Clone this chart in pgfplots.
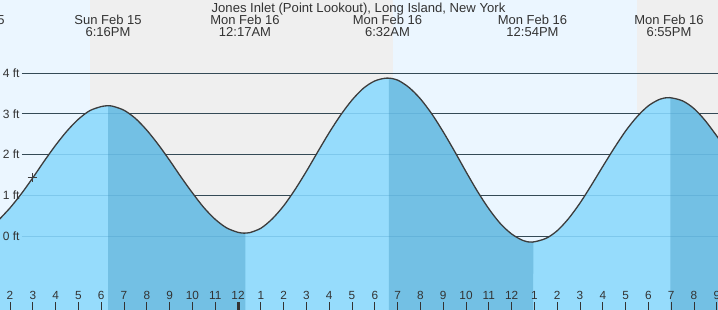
\documentclass[border=0pt]{standalone}
\usepackage{pgfplots}
\pgfplotsset{compat=1.18}
\usepackage{pgfplotstable}
\usepgfplotslibrary{fillbetween}
\usepackage{fontspec}
\setmainfont{Liberation Sans}
\definecolor{dayc}{HTML}{EBF6FF}
\definecolor{nightc}{HTML}{EFEFEF}
\definecolor{lightfill}{HTML}{96DCFC}
\definecolor{darkfill}{HTML}{73C0E4}
\definecolor{gridc}{HTML}{333333}
\definecolor{gridover}{HTML}{3A8FC0}
\definecolor{linec}{HTML}{3C3C3C}
\definecolor{textc}{HTML}{333333}
\pgfplotstableread{
t v
13.5 0.39
14.0 0.69
14.5 1.04
15.0 1.43
15.5 1.84
16.0 2.23
16.5 2.58
17.0 2.87
17.5 3.08
18.0 3.18
18.27 3.20
18.5 3.19
19.0 3.09
19.5 2.89
20.0 2.60
20.5 2.25
21.0 1.86
21.5 1.45
22.0 1.06
22.5 0.70
23.0 0.41
23.5 0.20
24.0 0.09
24.28 0.07
24.5 0.08
25.0 0.19
25.5 0.42
26.0 0.74
26.5 1.14
27.0 1.59
27.5 2.07
28.0 2.54
28.5 2.97
29.0 3.34
29.5 3.63
30.0 3.81
30.53 3.88
31.0 3.83
31.5 3.65
32.0 3.37
32.5 3.00
33.0 2.56
33.5 2.08
34.0 1.58
34.5 1.10
35.0 0.67
35.5 0.31
36.0 0.05
36.5 -0.11
36.9 -0.15
37.5 -0.06
38.0 0.13
38.5 0.43
39.0 0.81
39.5 1.25
40.0 1.71
40.5 2.16
41.0 2.58
41.5 2.93
42.0 3.20
42.5 3.36
42.92 3.40
43.5 3.32
44.0 3.13
44.5 2.83
45.1 2.38
}\tide
\begin{document}
\begin{tikzpicture}
\begin{axis}[
  name=ax,
  scale only axis,
  width=718pt, height=310pt,
  xmin=13.5614, xmax=45.0526,
  ymin=-1.818, ymax=5.799,
  axis line style={draw=none},
  axis background/.style={fill=dayc},
  axis on top,
  xtick={14,...,45}, xticklabels={},
  xtick pos=bottom,
  tick align=inside,
  major tick length=8pt,
  tick style={draw=textc, line width=1pt},
  extra x ticks={24}, extra x tick labels={},
  extra x tick style={tick style={draw=textc, line width=3pt}},
  ytick=\empty,
]
% night backgrounds
\addplot[on layer=axis background, fill=nightc, draw=none] coordinates {(17.51,-2) (30.79,-2) (30.79,6) (17.51,6)} -- cycle;
\addplot[on layer=axis background, fill=nightc, draw=none] coordinates {(41.49,-2) (46,-2) (46,6) (41.49,6)} -- cycle;
% grid lines
\pgfplotsinvokeforeach{0,...,4}{
  \addplot[on layer=axis background, draw=gridc, line width=1pt] coordinates {(14.526,#1) (46,#1)};
}
% tide curve and fills
\addplot[name path=tide, draw=none, smooth, tension=0.5] table[x=t, y=v] {\tide};
\addplot[name path=bot, draw=none] coordinates {(13,-2) (46,-2)};
\addplot[fill=lightfill, draw=none] fill between[of=tide and bot];
\addplot[fill=darkfill, draw=none] fill between[of=tide and bot, soft clip={domain=18.30:24.32}];
\addplot[fill=darkfill, draw=none] fill between[of=tide and bot, soft clip={domain=30.62:36.95}];
\addplot[fill=darkfill, draw=none] fill between[of=tide and bot, soft clip={domain=42.96:46}];
\pgfplotsinvokeforeach{0,...,4}{
  \addplot[draw=gridover, opacity=0.25, line width=1pt] coordinates {(14.526,#1) (46,#1)};
}
\addplot[draw=linec, line width=1.3pt, smooth, tension=0.5] table[x=t, y=v] {\tide};
% current time marker
\addplot[only marks, mark=+, mark size=4.5pt, draw=linec, line width=1pt] coordinates {(14.965,1.43)};
% y labels
\pgfplotsinvokeforeach{0,...,4}{
  \node[anchor=west, inner sep=0pt, text=textc, font=\fontsize{12}{12}\selectfont] at (axis cs:13.68,#1) {#1 ft};
}
% title
\node[anchor=base, inner sep=0pt, text=textc, font=\fontsize{13.1}{13}\selectfont] at (axis cs:29.285,5.504) {Jones Inlet (Point Lookout), Long Island, New York};
% extreme labels
\node[anchor=base, inner sep=0pt, text=textc, font=\fontsize{13}{13}\selectfont] at (axis cs:12.29,5.209) {Sun Feb 15};
\node[anchor=base, inner sep=0pt, text=textc, font=\fontsize{13}{13}\selectfont] at (axis cs:18.298,5.209) {Sun Feb 15};
\node[anchor=base, inner sep=0pt, text=textc, font=\fontsize{13}{13}\selectfont] at (axis cs:18.298,4.914) {6:16PM};
\node[anchor=base, inner sep=0pt, text=textc, font=\fontsize{13}{13}\selectfont] at (axis cs:24.307,5.209) {Mon Feb 16};
\node[anchor=base, inner sep=0pt, text=textc, font=\fontsize{13}{13}\selectfont] at (axis cs:24.307,4.914) {12:17AM};
\node[anchor=base, inner sep=0pt, text=textc, font=\fontsize{13}{13}\selectfont] at (axis cs:30.557,5.209) {Mon Feb 16};
\node[anchor=base, inner sep=0pt, text=textc, font=\fontsize{13}{13}\selectfont] at (axis cs:30.557,4.914) {6:32AM};
\node[anchor=base, inner sep=0pt, text=textc, font=\fontsize{13}{13}\selectfont] at (axis cs:36.917,5.209) {Mon Feb 16};
\node[anchor=base, inner sep=0pt, text=textc, font=\fontsize{13}{13}\selectfont] at (axis cs:36.917,4.914) {12:54PM};
\node[anchor=base, inner sep=0pt, text=textc, font=\fontsize{13}{13}\selectfont] at (axis cs:42.903,5.209) {Mon Feb 16};
\node[anchor=base, inner sep=0pt, text=textc, font=\fontsize{13}{13}\selectfont] at (axis cs:42.903,4.914) {6:55PM};
% hour labels
\pgfplotsinvokeforeach{14,...,45}{
  \node[anchor=base, inner sep=0pt, text=textc, font=\fontsize{11.8}{12}\selectfont] at (axis cs:#1,-1.572) {\pgfmathtruncatemacro\h{mod(#1-1,12)+1}\h};
}
\end{axis}
\pgfresetboundingbox
\useasboundingbox (ax.south west) rectangle (ax.north east);
\end{tikzpicture}
\end{document}
